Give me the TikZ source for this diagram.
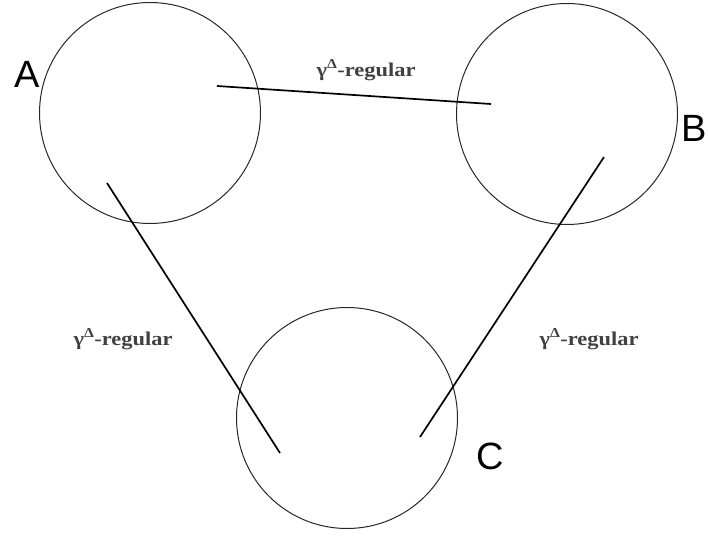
\documentclass[tikz,border=0pt]{standalone}
\usepackage{fontspec}
\setmainfont{Liberation Serif}
\newfontfamily\lblfont{Liberation Sans}
\usetikzlibrary{positioning}
\newcommand{\gammareg}{\scalebox{1.15}[1]{γ\textsuperscript{Δ}-regular}}
\tikzset{
  set/.style={draw=black!85, circle, minimum size=221pt, inner sep=0pt, line width=1pt},
  setname/.style={font=\lblfont\fontsize{38}{40}\selectfont},
  edge/.style={line width=1.7pt},
  rel/.style={font=\bfseries\fontsize{19.5}{21}\selectfont, text=black!75},
}
\begin{document}
\begin{tikzpicture}[x=1pt,y=-1pt]
  \useasboundingbox (0,0) rectangle (708,537);
  % the three sets
  \node[set] (A) at (150,113) {};
  \node[set] (B) at (567,114) {};
  \node[set] (C) at (347,418) {};
  \node[setname] (nA) at (27,74) {A};
  \node[setname] (nB) at (694,128) {B};
  \node[setname] (nC) at (490,456) {C};
  % end points of the links
  \coordinate (ab1) at (217,86);
  \coordinate (ab2) at (491,104);
  \coordinate (ac1) at (107,183);
  \coordinate (ac2) at (280,453);
  \coordinate (bc1) at (604,157);
  \coordinate (bc2) at (420,437);
  \draw[edge] (ab1) -- (ab2);
  \draw[edge] (ac1) -- (ac2);
  \draw[edge] (bc1) -- (bc2);
  \node[rel] (lab) at (366,70) {\gammareg};
  \node[rel] (lac) at (123,339) {\gammareg};
  \node[rel] (lbc) at (589,339) {\gammareg};
\end{tikzpicture}
\end{document}
